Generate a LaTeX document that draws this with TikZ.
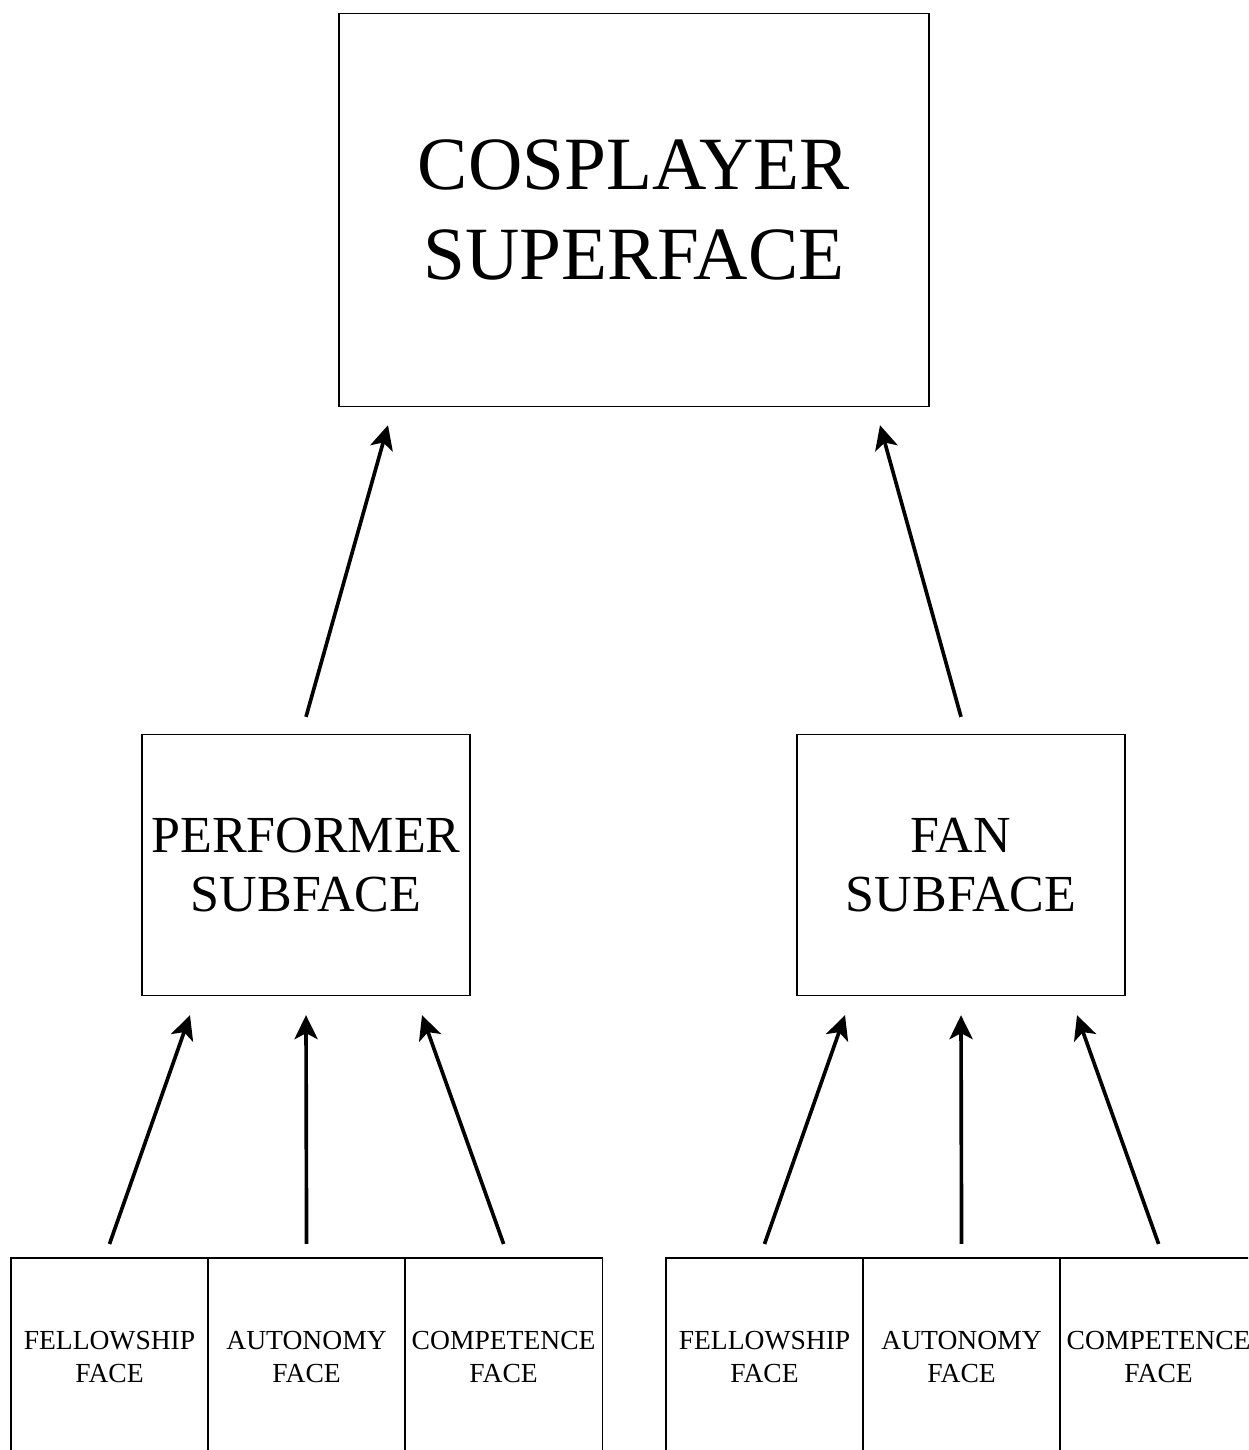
\documentclass[tikz,border=0pt]{standalone}
\usepackage{fontspec}
\setmainfont{Liberation Serif}
\usetikzlibrary{positioning,arrows.meta,calc}
\tikzset{
  superbox/.style={
    rectangle,
    draw, line width=0.9pt,
    minimum width=14.75cm,
    minimum height=9.825cm,
    align=center,
    font=\fontsize{53.5}{63.5}\selectfont},
  subbox/.style={
    rectangle,
    draw, line width=0.9pt,
    minimum width=8.2cm,
    minimum height=6.525cm,
    align=center,
    font=\fontsize{37}{41.5}\selectfont},
  facecell/.style={
    rectangle,
    draw, line width=0.9pt,
    outer sep=0pt, inner sep=1pt,
    minimum width=4.925cm,
    minimum height=4.95cm,
    align=center,
    font=\fontsize{19.6}{23.5}\selectfont},
  feeds/.style={draw, line width=2.6pt,
    -{Stealth[length=0.6cm, width=0.58cm, inset=0.15cm]}},
}
\begin{document}
\begin{tikzpicture}[x=0.025cm, y=-0.025cm]
  \path[use as bounding box, clip] (0,0) rectangle (1248,1450);

  % top and middle levels
  \node[superbox] (super) at (634,210) {COSPLAYER\\SUPERFACE};
  \node[subbox] (perf) at (306,865) {PERFORMER\\SUBFACE};
  \node[subbox] (fan) at (961,865) {FAN\\SUBFACE};

  % bottom rows of faces
  \node[facecell] (pfel) at (109.5,1357) {FELLOWSHIP\\FACE};
  \node[facecell, right=0pt of pfel] (paut) {AUTONOMY\\FACE};
  \node[facecell, right=0pt of paut] (pcom) {COMPETENCE\\FACE};
  \node[facecell] (ffel) at (764.5,1357) {FELLOWSHIP\\FACE};
  \node[facecell, right=0pt of ffel] (faut) {AUTONOMY\\FACE};
  \node[facecell, right=0pt of faut] (fcom) {COMPETENCE\\FACE};

  % arrows
  \draw[feeds] ($(perf.north)+(0,-17)$) -- ($(super.south)+(-246,18)$);
  \draw[feeds] ($(fan.north)+(0,-17)$) -- ($(super.south)+(246,18)$);
  \foreach \src/\dst/\dx in {pfel/perf/-116, paut/perf/0, pcom/perf/116,
                             ffel/fan/-116, faut/fan/0, fcom/fan/116}
    \draw[feeds] ($(\src.north)+(0,-14)$) -- ($(\dst.south)+(\dx,19)$);
\end{tikzpicture}
\end{document}
